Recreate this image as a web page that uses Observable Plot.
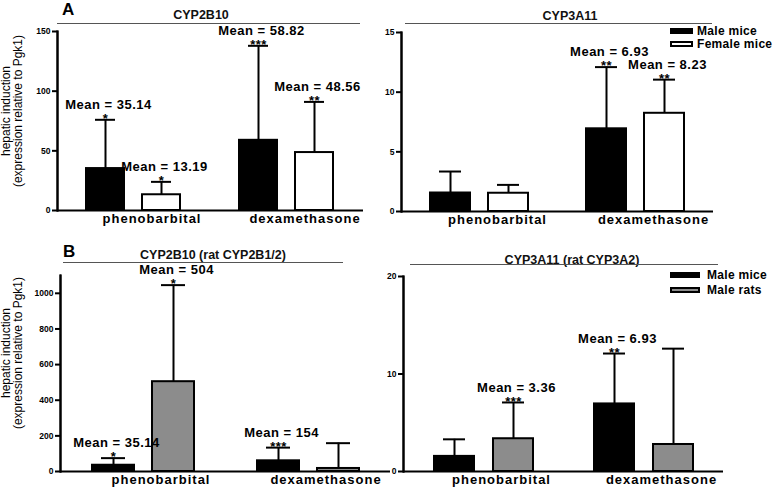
<!DOCTYPE html>
<html><head><meta charset="utf-8">
<script src="https://cdn.jsdelivr.net/npm/d3@7"></script>
<script src="https://cdn.jsdelivr.net/npm/@observablehq/plot@0.6"></script>
<style>
body{margin:0;background:#fff;font-family:"Liberation Sans",Arial,sans-serif;}
#root{position:relative;width:773px;height:489px;background:#fff;}
.panel{position:absolute;}
.panel svg{background:transparent;overflow:visible;}
.panel g[aria-label="fx-axis tick label"] text{letter-spacing:1px;fill:#000;}
.panel g[aria-label="text"] text{letter-spacing:0.5px;}
.panel g[aria-label="frame"] line{stroke:#000;stroke-width:2px;}
.ttl{position:absolute;width:240px;text-align:center;font-weight:bold;font-size:12.5px;line-height:14px;color:#111;}
.uline{position:absolute;height:0;border-top:1.5px solid #555;}
.ylab{position:absolute;width:190px;height:24px;text-align:center;font-size:12px;line-height:11.5px;color:#000;transform:rotate(-90deg);transform-origin:50% 50%;pointer-events:none;}
.letter{position:absolute;font-weight:bold;font-size:17px;line-height:17px;}
.leg{position:absolute;font-weight:bold;font-size:12px;line-height:14px;letter-spacing:0.3px;}
.sw{position:absolute;box-sizing:border-box;border:2px solid #000;}
</style>
</head><body>
<div id="root"></div>
<script>
// ---------- data ----------
const drugs = ["phenobarbital", "dexamethasone"];

// Panel A (mice): groups
const groupsA = ["Male mice", "Female mice"];
const colorsA = ["#000000", "#ffffff"];
// Panel B: groups
const groupsB = ["Male mice", "Male rats"];
const colorsB = ["#000000", "#8c8c8c"];

// A-left: CYP2B10
const a1MaleMean = [35.14, 58.82];
const a1MaleUpper = [76, 138];
const a1FemaleMean = [13.19, 48.56];
const a1FemaleUpper = [24, 91];
const a1MaleLabel = ["Mean = 35.14", "Mean = 58.82"];
const a1MaleStars = ["*", "***"];
const a1FemaleLabel = ["Mean = 13.19", "Mean = 48.56"];
const a1FemaleStars = ["*", "**"];

// A-right: CYP3A11
const a2MaleMean = [1.55, 6.93];
const a2MaleUpper = [3.35, 12.1];
const a2FemaleMean = [1.53, 8.23];
const a2FemaleUpper = [2.23, 11.05];
const a2MaleLabel = [null, "Mean = 6.93"];
const a2MaleStars = [null, "**"];
const a2FemaleLabel = [null, "Mean = 8.23"];
const a2FemaleStars = [null, "**"];

// B-left: CYP2B10 (rat CYP2B1/2)
const b1MiceMean = [35.14, 60];
const b1MiceUpper = [75, 134];
const b1RatsMean = [504, 17];
const b1RatsUpper = [1046, 159];
const b1MiceLabel = ["Mean = 35.14", "Mean = 154"];
const b1MiceStars = ["*", "***"];
const b1RatsLabel = ["Mean = 504", null];
const b1RatsStars = ["*", null];

// B-right: CYP3A11 (rat CYP3A2)
const b2MiceMean = [1.55, 6.93];
const b2MiceUpper = [3.3, 12.1];
const b2RatsMean = [3.36, 2.77];
const b2RatsUpper = [7.08, 12.6];
const b2MiceLabel = [null, "Mean = 6.93"];
const b2MiceStars = [null, "**"];
const b2RatsLabel = ["Mean = 3.36", null];
const b2RatsStars = ["***", null];

// axis ticks
const ticksA1 = [0, 50, 100, 150];
const ticksA2 = [0, 5, 10, 15];
const ticksB1 = [0, 200, 400, 600, 800, 1000];
const ticksB2 = [0, 10, 20];

const titles = ["CYP2B10", "CYP3A11", "CYP2B10 (rat CYP2B1/2)", "CYP3A11 (rat CYP3A2)"];
const yLabelLines = ["hepatic induction", "(expression relative to Pgk1)"];

// ---------- build ----------
function rows(groups, means, uppers, labels, stars) {
  const out = [];
  drugs.forEach((d, di) => groups.forEach((g, gi) => out.push({
    drug: d, group: g, mean: means[gi][di], upper: uppers[gi][di],
    label: labels[gi][di], stars: stars[gi][di]
  })));
  return out;
}

const root = document.getElementById("root");

function panel(o) {
  const ch = {fx: "drug", x: "group"};
  const chart = Plot.plot({
    width: o.width, height: o.height,
    marginLeft: o.ml, marginRight: o.mr, marginTop: o.mt, marginBottom: o.mb,
    style: {background: "transparent", overflow: "visible", fontFamily: "Liberation Sans, Arial, sans-serif", color: "#000"},
    fx: {domain: drugs, padding: 0, axis: null, label: null},
    x: {domain: o.groups, paddingInner: o.pi, paddingOuter: o.po, axis: null},
    y: {domain: o.yDomain, axis: null},
    color: {domain: o.groups, range: o.colors},
    marks: [
      Plot.barY(o.data, {...ch, y: "mean", fill: "group", stroke: "#000", strokeWidth: 2}),
      Plot.ruleX(o.data, {...ch, y1: "mean", y2: "upper", stroke: "#000", strokeWidth: 2}),
      Plot.tickY(o.data, {...ch, y: "upper", stroke: "#000", strokeWidth: 2, insetLeft: 9, insetRight: 9}),
      Plot.ruleY([0], {stroke: "#000", strokeWidth: 2}),
      Plot.frame({anchor: "left", facetAnchor: "left", stroke: "#000", strokeWidth: 2}),
      Plot.frame({anchor: "left", facet: "super", stroke: "#000", strokeWidth: 2}),
      Plot.axisY({ticks: o.ticks, tickFormat: d3.format("d"), tickSize: 5, tickPadding: 2, stroke: "#000", strokeWidth: 2, fontSize: 8.5, fontWeight: "bold", label: null}),
      Plot.axisFx({anchor: "bottom", tickSize: 0, tickPadding: 3, dx: 18, fontSize: 13, fontWeight: "bold", label: null}),
      Plot.text(o.data.filter(d => d.stars), {...ch, y: "upper", text: "stars", dy: -1, fontSize: 13, fontWeight: "bold"}),
      Plot.text(o.data.filter(d => d.label), {...ch, y: "upper", text: "label", dy: -15, dx: 3, fontSize: 13, fontWeight: "bold"})
    ]
  });
  const div = document.createElement("div");
  div.className = "panel";
  div.style.left = o.left + "px";
  div.style.top = o.top + "px";
  div.appendChild(chart);
  root.appendChild(div);
}

panel({data: rows(groupsA, [a1MaleMean, a1FemaleMean], [a1MaleUpper, a1FemaleUpper], [a1MaleLabel, a1FemaleLabel], [a1MaleStars, a1FemaleStars]),
  groups: groupsA, colors: colorsA, yDomain: [0, 150], ticks: ticksA1,
  left: 17, top: 1, width: 356, height: 237, ml: 40, mr: 10, mt: 30, mb: 28, pi: 0.32, po: 0.52});
panel({data: rows(groupsA, [a2MaleMean, a2FemaleMean], [a2MaleUpper, a2FemaleUpper], [a2MaleLabel, a2FemaleLabel], [a2MaleStars, a2FemaleStars]),
  groups: groupsA, colors: colorsA, yDomain: [0, 15], ticks: ticksA2,
  left: 370, top: 2, width: 353, height: 237, ml: 30, mr: 10, mt: 30, mb: 28, pi: 0.316, po: 0.496});
panel({data: rows(groupsB, [b1MiceMean, b1RatsMean], [b1MiceUpper, b1RatsUpper], [b1MiceLabel, b1RatsLabel], [b1MiceStars, b1RatsStars]),
  groups: groupsB, colors: colorsB, yDomain: [0, 1100], ticks: ticksB1,
  left: 15, top: 245, width: 385, height: 242, ml: 45, mr: 10, mt: 30, mb: 16, pi: 0.306, po: 0.517});
panel({data: rows(groupsB, [b2MiceMean, b2RatsMean], [b2MiceUpper, b2RatsUpper], [b2MiceLabel, b2RatsLabel], [b2MiceStars, b2RatsStars]),
  groups: groupsB, colors: colorsB, yDomain: [0, 20], ticks: ticksB2,
  left: 373, top: 246, width: 360, height: 241, ml: 30, mr: 10, mt: 30, mb: 16, pi: 0.328, po: 0.509});

// titles + underlines
const titlePos = [[201, 15, 57, 360, 23], [570, 16, 405, 712, 23], [213, 255, 63, 343, 262], [572, 260, 410, 718, 264]];
titles.forEach((t, i) => {
  const [cx, cy, x1, x2, ly] = titlePos[i];
  const d = document.createElement("div");
  d.className = "ttl"; d.textContent = t;
  d.style.left = (cx - 120) + "px"; d.style.top = (cy - 7) + "px";
  root.appendChild(d);
  const u = document.createElement("div");
  u.className = "uline";
  u.style.left = x1 + "px"; u.style.width = (x2 - x1) + "px"; u.style.top = ly + "px";
  root.appendChild(u);
});

// y labels
[[12.5, 111], [12.5, 353]].forEach(([cx, cy]) => {
  const d = document.createElement("div");
  d.className = "ylab";
  d.innerHTML = yLabelLines[0] + "<br>" + yLabelLines[1];
  d.style.left = (cx - 95) + "px"; d.style.top = (cy - 12) + "px";
  root.appendChild(d);
});

// panel letters
[["A", 62, 1], ["B", 63, 243]].forEach(([t, x, y]) => {
  const d = document.createElement("div");
  d.className = "letter"; d.textContent = t;
  d.style.left = x + "px"; d.style.top = y + "px";
  root.appendChild(d);
});

// legends
function legend(groups, colors, x, swW, tx, ys) {
  groups.forEach((g, i) => {
    const s = document.createElement("div");
    s.className = "sw";
    s.style.left = x + "px"; s.style.top = (ys[i] - 3) + "px";
    s.style.width = swW + "px"; s.style.height = "6px";
    s.style.background = colors[i];
    root.appendChild(s);
    const t = document.createElement("div");
    t.className = "leg"; t.textContent = g;
    t.style.left = tx + "px"; t.style.top = (ys[i] - 7) + "px";
    root.appendChild(t);
  });
}
legend(groupsA, colorsA, 670, 23, 697, [31, 44]);
legend(groupsB, colorsB, 670, 30, 707, [275, 290]);
</script>
</body></html>
